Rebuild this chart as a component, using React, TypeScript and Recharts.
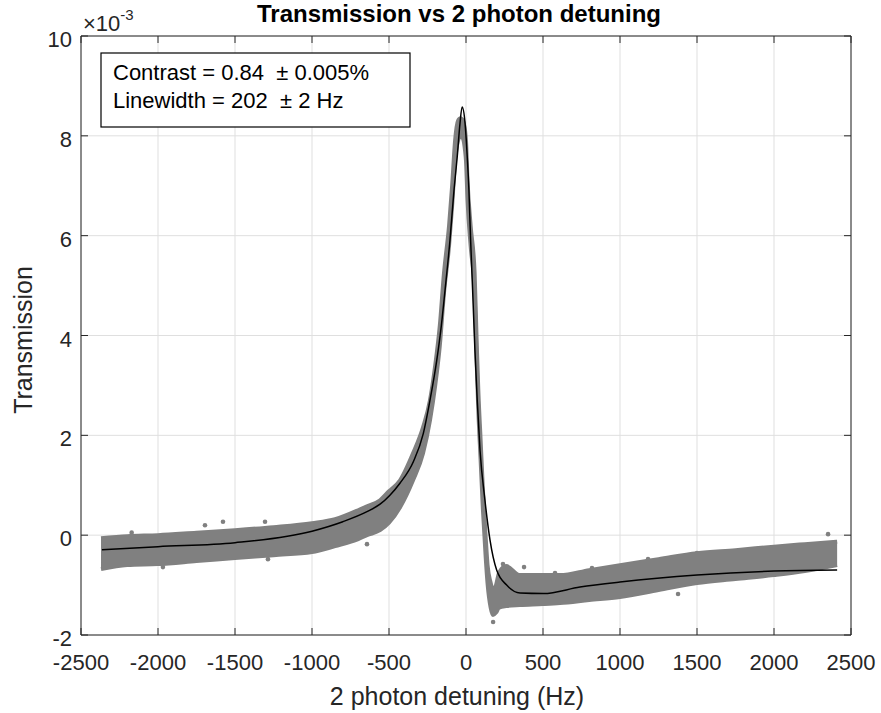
import React from "react";
import {
  ComposedChart,
  Line,
  Area,
  Scatter,
  XAxis,
  YAxis,
  CartesianGrid,
} from "recharts";

const FONT = '"Liberation Sans", Arial, Helvetica, sans-serif';
const AXIS = "#262626";
const DOTS = "#808080";

// axis ticks (Hz, and transmission in units of 1e-3)
const xTicks = [-2500, -2000, -1500, -1000, -500, 0, 500, 1000, 1500, 2000, 2500];
const yTicks = [-2, 0, 2, 4, 6, 8, 10];

const bandHz = [
  -2370, -2200, -2000, -1750, -1500, -1250, -1000, -850, -700, -643, -558, -500,
  -428, -344, -279, -234, -200, -170, -143, -110, -90, -71, -52, -36, -20, -6, 0,
  10, 30, 56, 70, 80, 95, 110, 128, 140, 160, 175, 195, 215, 260, 350, 500, 610,
  800, 1000, 1250, 1500, 1750, 2000, 2200, 2410,
];
const bandLow = [
  -0.68, -0.6, -0.58, -0.52, -0.46, -0.4, -0.34, -0.22, -0.08, 0.0, 0.1, 0.25,
  0.56, 1.1, 1.64, 2.3, 3.0, 3.8, 4.85, 5.8, 6.6, 7.5, 7.9, 8.0, 7.95, 7.7, 7.5,
  6.7, 5.8, 4.85, 3.4, 2.5, 1.5, 0.5, -0.45, -0.97, -1.45, -1.6, -1.55, -1.45,
  -1.42, -1.4, -1.38, -1.36, -1.3, -1.24, -1.1, -0.96, -0.88, -0.8, -0.72, -0.6,
];
const bandHigh = [
  -0.06, -0.02, 0.0, 0.05, 0.1, 0.16, 0.24, 0.32, 0.5, 0.58, 0.7, 0.88, 1.1, 1.64,
  2.16, 2.7, 3.4, 4.2, 5.25, 6.2, 7.0, 7.9, 8.3, 8.35, 8.3, 8.1, 7.9, 7.1, 6.2,
  5.25, 3.8, 2.9, 1.9, 0.9, -0.05, -0.6, -0.95, -1.1, -1.0, -0.75, -0.62, -0.8,
  -0.8, -0.8, -0.7, -0.6, -0.48, -0.36, -0.3, -0.23, -0.18, -0.13,
];

// stray points outside the envelope
const strayHz = [-2171, -1968, -1695, -1578, -1305, -1286, -643, 176, 240, 377, 578, 818, 1182, 1377, 1500, 2351];
const strayT = [0.05, -0.64, 0.2, 0.27, 0.27, -0.48, -0.18, -1.74, -0.58, -0.64, -0.76, -0.66, -0.48, -1.18, -0.36, 0.02];

// fitted curve
const fitHz = [
  -2364, -2000, -1500, -1000, -800, -643, -558, -494, -429, -342, -277, -234, -190,
  -160, -136, -104, -78, -57, -39, -25, -6, 8, 19, 30, 43, 58, 73, 91, 123, 156,
  199, 264, 351, 502, 740, 1000, 1500, 2000, 2410,
];
const fitT = [
  -0.29, -0.23, -0.15, 0.08, 0.27, 0.47, 0.62, 0.8, 1.04, 1.47, 2.04, 2.7, 3.5,
  4.2, 4.91, 5.91, 6.91, 7.58, 8.25, 8.58, 8.25, 7.58, 6.91, 5.91, 4.91, 3.7, 2.7,
  1.7, 0.7, -0.1, -0.7, -1.0, -1.16, -1.17, -1.04, -0.94, -0.8, -0.72, -0.7,
];

const bandData = bandHz.map((x, i) => ({ x, range: [bandLow[i], bandHigh[i]] }));
const strayData = strayHz.map((x, i) => ({ x, t: strayT[i] }));
const fitData = fitHz.map((x, i) => ({ x, t: fitT[i] }));

const XTick = ({ x, payload }: any) => (
  <text x={x} y={670} textAnchor="middle" fontSize={22} fill={AXIS} fontFamily={FONT}>
    {payload.value}
  </text>
);

const YTick = ({ y, payload }: any) => (
  <text x={72} y={y + 11} textAnchor="end" fontSize={22} fill={AXIS} fontFamily={FONT}>
    {payload.value}
  </text>
);

const NoLabel = () => <g />;

const Dot = ({ cx, cy }: any) => <circle cx={cx} cy={cy} r={2.3} fill={DOTS} />;

export default function App() {
  return (
    <div style={{ position: "absolute", left: 0, top: 0, width: 881, height: 713, background: "#fff" }}>
      <ComposedChart
        width={881}
        height={713}
        margin={{ top: 26, right: 20, bottom: 38, left: 21 }}
      >
        <CartesianGrid stroke="#dfdfdf" strokeWidth={1} />
        <XAxis
          dataKey="x"
          type="number"
          domain={[-2500, 2500]}
          ticks={xTicks}
          height={40}
          stroke={AXIS}
          tickSize={-7}
          tick={<XTick />}
          allowDataOverflow
        />
        <XAxis
          xAxisId="top"
          orientation="top"
          dataKey="x"
          type="number"
          domain={[-2500, 2500]}
          ticks={xTicks}
          height={10}
          stroke={AXIS}
          tickSize={-7}
          tick={<NoLabel />}
          allowDataOverflow
        />
        <YAxis
          type="number"
          domain={[-2, 10]}
          ticks={yTicks}
          width={60}
          stroke={AXIS}
          tickSize={-7}
          tick={<YTick />}
          allowDataOverflow
        />
        <YAxis
          yAxisId="right"
          orientation="right"
          type="number"
          domain={[-2, 10]}
          ticks={yTicks}
          width={10}
          stroke={AXIS}
          tickSize={-7}
          tick={<NoLabel />}
          allowDataOverflow
        />
        <Area
          data={bandData}
          dataKey="range"
          type="monotone"
          stroke={DOTS}
          strokeWidth={4}
          fill={DOTS}
          fillOpacity={1}
          dot={false}
          activeDot={false}
          isAnimationActive={false}
        />
        <Scatter data={strayData} dataKey="t" shape={<Dot />} isAnimationActive={false} />
        <Line
          data={fitData}
          dataKey="t"
          type="monotone"
          stroke="#000"
          strokeWidth={1.5}
          dot={false}
          activeDot={false}
          isAnimationActive={false}
        />
        <Line
          xAxisId="top"
          yAxisId="right"
          data={fitData}
          dataKey="t"
          stroke="none"
          dot={false}
          activeDot={false}
          isAnimationActive={false}
        />
      </ComposedChart>
      <svg
        width={881}
        height={713}
        style={{ position: "absolute", left: 0, top: 0, pointerEvents: "none" }}
        fontFamily={FONT}
      >
        <text x={459} y={22} textAnchor="middle" fontSize={24} fontWeight="bold" fill="#000">
          Transmission vs 2 photon detuning
        </text>
        <text x={457} y={705} textAnchor="middle" fontSize={25} fill={AXIS}>
          2 photon detuning (Hz)
        </text>
        <text x={32} y={340} textAnchor="middle" fontSize={25} fill={AXIS} transform="rotate(-90 32 340)">
          Transmission
        </text>
        <text x={83} y={31} fontSize={22} fill={AXIS}>
          ×10
          <tspan fontSize={15} dy={-11}>-3</tspan>
        </text>
        <rect x={101} y={53} width={309} height={74} fill="#fff" stroke="#000" strokeWidth={1.2} />
        <text x={113} y={80} fontSize={22} fill="#000" style={{ whiteSpace: "pre" }}>
          Contrast = 0.84  ± 0.005%
        </text>
        <text x={113} y={108} fontSize={22} fill="#000" style={{ whiteSpace: "pre" }}>
          Linewidth = 202  ± 2 Hz
        </text>
      </svg>
    </div>
  );
}
